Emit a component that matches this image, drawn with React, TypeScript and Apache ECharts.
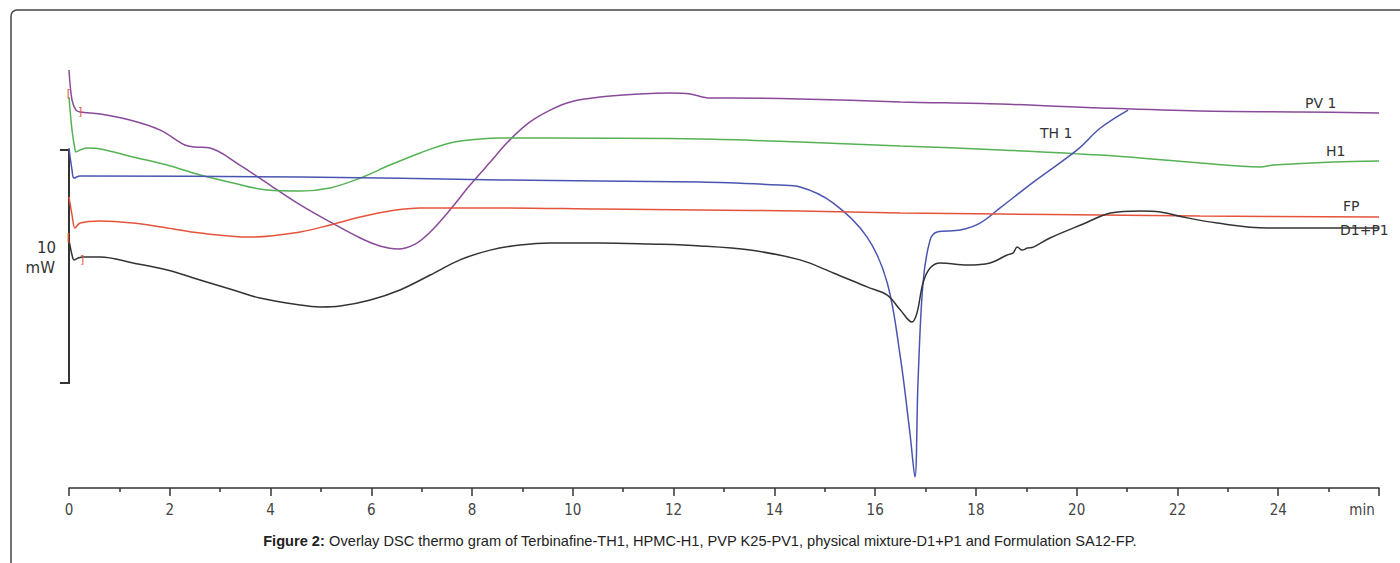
import React, { useEffect, useRef } from "react";
import * as echarts from "echarts";

// x: time (min), y: heat flow (mW, arbitrary overlay offset)
const tickLabels = ["0", "2", "4", "6", "8", "10", "12", "14", "16", "18", "20", "22", "24", "min"];

const pv1: number[][] = [
  [0, 17.94], [0.06, 16.65], [0.14, 16.22], [0.22, 16.14], [0.62, 16.05], [1.21, 15.79], [1.81, 15.36],
  [2.3, 14.72], [2.5, 14.64], [2.8, 14.59], [3.39, 13.86], [3.99, 13.0], [4.59, 12.15], [5.18, 11.42],
  [5.78, 10.73], [6.17, 10.39], [6.53, 10.26], [6.87, 10.47], [7.17, 10.99], [7.56, 11.93], [7.96, 13.0],
  [8.36, 13.99], [8.75, 14.94], [9.15, 15.71], [9.55, 16.22], [9.95, 16.57], [10.54, 16.78], [11.33, 16.91],
  [11.93, 16.95], [12.33, 16.91], [12.72, 16.74], [13.12, 16.74], [14.51, 16.7], [16.5, 16.57], [18.48, 16.48],
  [20.47, 16.31], [22.45, 16.18], [24.44, 16.14], [26, 16.09],
];

const h1: number[][] = [
  [0, 16.78], [0.06, 15.36], [0.12, 14.51], [0.14, 14.42], [0.22, 14.51], [0.36, 14.59], [0.62, 14.55],
  [1.27, 14.21], [1.95, 13.86], [2.6, 13.43], [3.26, 13.09], [3.93, 12.79], [4.59, 12.75], [5.18, 12.88],
  [5.78, 13.3], [6.37, 13.86], [6.97, 14.38], [7.56, 14.81], [8.16, 14.98], [8.56, 15.02], [9.55, 15.02],
  [12.53, 14.98], [14.51, 14.85], [16.5, 14.68], [18.48, 14.51], [20.47, 14.29], [22.45, 13.95],
  [23.64, 13.78], [23.9, 13.86], [25.09, 13.99], [26, 14.03],
];

const th1: number[][] = [
  [0, 14.59], [0.06, 13.65], [0.1, 13.3], [0.22, 13.39], [4.59, 13.35], [8.56, 13.22], [12.53, 13.13],
  [14.11, 13.0], [14.51, 12.92], [15.17, 12.23], [15.84, 10.77], [16.24, 8.8], [16.5, 5.62], [16.69, 2.36],
  [16.79, 0.47], [16.85, 4.51], [16.95, 8.8], [17.09, 10.64], [17.23, 10.99], [17.69, 11.07], [18.08, 11.37],
  [18.48, 12.02], [19.14, 13.13], [20.01, 14.51], [20.47, 15.45], [21.02, 16.22],
];

const fp: number[][] = [
  [0, 12.49], [0.06, 11.72], [0.12, 11.16], [0.22, 11.37], [0.62, 11.46], [1.27, 11.37], [1.95, 11.16],
  [2.6, 10.94], [3.59, 10.77], [4.59, 10.99], [5.18, 11.29], [5.78, 11.63], [6.37, 11.89], [6.97, 12.02],
  [8.56, 12.02], [10.54, 11.97], [12.53, 11.93], [14.51, 11.89], [16.5, 11.8], [18.48, 11.76],
  [20.47, 11.72], [22.45, 11.67], [26, 11.63],
];

const d1p1: number[][] = [
  [0, 10.64], [0.06, 10.0], [0.1, 9.79], [0.18, 9.87], [0.28, 9.91], [0.62, 9.91], [1.27, 9.66], [1.95, 9.36],
  [2.6, 8.93], [3.26, 8.5], [3.79, 8.15], [4.59, 7.85], [4.98, 7.77], [5.38, 7.81], [5.98, 8.07], [6.57, 8.5],
  [7.17, 9.14], [7.76, 9.79], [8.36, 10.21], [8.95, 10.43], [9.55, 10.52], [10.54, 10.52], [11.53, 10.47],
  [12.53, 10.39], [13.52, 10.21], [14.51, 9.79], [15.17, 9.23], [15.84, 8.63], [16.24, 8.28], [16.5, 7.64],
  [16.73, 7.12], [16.83, 7.51], [16.95, 8.8], [17.09, 9.44], [17.29, 9.66], [17.83, 9.57], [18.28, 9.66],
  [18.62, 10.0], [18.74, 10.09], [18.82, 10.34], [18.92, 10.21], [19.02, 10.3], [19.14, 10.34], [19.47, 10.73],
  [20.13, 11.33], [20.67, 11.8], [21.26, 11.89], [21.66, 11.85], [22.11, 11.63], [22.79, 11.37],
  [23.78, 11.16], [26, 11.16],
];

// 10 mW scale bar (x in min, y in mW)
const scaleBar: number[][] = [[-0.18, 14.51], [0, 14.51], [0, 4.51], [-0.18, 4.51]];

const COLORS = {
  pv1: "#8a4a9a",
  h1: "#55b255",
  th1: "#4a55b0",
  fp: "#e5533d",
  d1p1: "#333333",
};

const caption =
  " Overlay DSC thermo gram of Terbinafine-TH1, HPMC-H1, PVP K25-PV1, physical mixture-D1+P1 and Formulation SA12-FP.";

function curve(name: string, data: number[][], color: string, extra: any = {}) {
  return {
    type: "line",
    name,
    data,
    smooth: 0.35,
    symbol: "none",
    silent: true,
    lineStyle: { color, width: 1.5 },
    itemStyle: { color },
    z: 3,
    ...extra,
  };
}

const bracketLabel = (text: string, coord: number[]) => ({
  coord,
  symbol: "rect",
  symbolSize: 1,
  itemStyle: { color: "transparent" },
  label: { show: true, formatter: text, color: "#e5533d", fontSize: 11, fontFamily: "DejaVu Sans", position: "inside" },
});

export default function App() {
  const ref = useRef<HTMLDivElement>(null);
  useEffect(() => {
    document.body.style.margin = "0";
    if (!ref.current) return;
    const chart = echarts.init(ref.current, undefined, { renderer: "svg" });
    const labelFont = { fontFamily: "DejaVu Sans", fontSize: 14, fill: "#333" };
    const tickFont = "Liberation Sans Narrow, DejaVu Sans Condensed, sans-serif";
    chart.setOption({
      animation: false,
      backgroundColor: "#fff",
      grid: { left: 69, right: 21, top: 22, bottom: 75, containLabel: false },
      xAxis: {
        type: "value",
        min: 0,
        max: 26,
        interval: 2,
        axisLine: { show: true, lineStyle: { color: "#333", width: 1.5 } },
        axisTick: { show: true, length: 8, lineStyle: { color: "#333", width: 1.5 } },
        minorTick: { show: true, splitNumber: 2, length: 4, lineStyle: { color: "#333", width: 1.5 } },
        splitLine: { show: false },
        minorSplitLine: { show: false },
        axisLabel: {
          margin: 14,
          showMaxLabel: true,
          showMinLabel: true,
          color: "#444",
          fontSize: 15,
          fontFamily: tickFont,
          formatter: (v: number) => {
            const s = tickLabels[Math.round(v / 2)];
            return v === 26 ? "{m|" + s + "}" : s;
          },
          rich: {
            m: { color: "#444", fontSize: 15, fontFamily: tickFont, padding: [0, 34, 0, 0] },
          },
        },
      },
      yAxis: { type: "value", min: 0, max: 20, show: false },
      series: [
        curve("PV 1", pv1, COLORS.pv1, {
          markPoint: { silent: true, data: [bracketLabel("[", [0, 16.95]), bracketLabel("]", [0.22, 16.14])] },
        }),
        curve("H1", h1, COLORS.h1),
        curve("TH 1", th1, COLORS.th1),
        curve("FP", fp, COLORS.fp, {
          markPoint: { silent: true, data: [bracketLabel("[", [0, 10.77]), bracketLabel("]", [0.26, 9.79])] },
        }),
        curve("D1+P1", d1p1, COLORS.d1p1),
      ],
      graphic: [
        {
          id: "frame",
          type: "rect",
          silent: true,
          shape: { x: 11, y: 10, width: 1600, height: 800, r: [6, 0, 0, 0] },
          style: { fill: "none", stroke: "#444", lineWidth: 1.5 },
        },
        { id: "lpv", type: "text", x: 1305, y: 103, style: { ...labelFont, text: "PV 1", verticalAlign: "middle" } },
        { id: "lth", type: "text", x: 1040, y: 133, style: { ...labelFont, text: "TH 1", verticalAlign: "middle" } },
        { id: "lh", type: "text", x: 1326, y: 151, style: { ...labelFont, text: "H1", verticalAlign: "middle" } },
        { id: "lfp", type: "text", x: 1343, y: 206, style: { ...labelFont, text: "FP", verticalAlign: "middle" } },
        { id: "ld", type: "text", x: 1340, y: 230, style: { ...labelFont, text: "D1+P1", verticalAlign: "middle" } },
        { id: "l10", type: "text", x: 56, y: 248, style: { ...labelFont, fontSize: 15, text: "10", align: "right", verticalAlign: "middle" } },
        { id: "lmw", type: "text", x: 55, y: 268, style: { ...labelFont, fontSize: 15, text: "mW", align: "right", verticalAlign: "middle" } },
        {
          id: "cap",
          type: "text",
          x: 700,
          y: 541,
          style: {
            text: "{b|Figure 2:}{r|" + caption + "}",
            align: "center",
            verticalAlign: "middle",
            rich: {
              b: { fontFamily: "Liberation Sans, Arial, sans-serif", fontWeight: "bold", fontSize: 14.6, fill: "#222" },
              r: { fontFamily: "Liberation Sans, Arial, sans-serif", fontSize: 14.6, fill: "#222" },
            },
          },
        },
      ],
    });
    // scale bar drawn through the chart's own scales
    const pts = scaleBar.map((p) => chart.convertToPixel({ gridIndex: 0 }, p) as number[]);
    chart.setOption({
      graphic: [
        {
          id: "scalebar",
          type: "polyline",
          silent: true,
          z: 1,
          shape: { points: pts },
          style: { fill: "none", stroke: "#333", lineWidth: 2 },
        },
      ],
    });
    return () => chart.dispose();
  }, []);
  return <div ref={ref} style={{ width: 1400, height: 563 }} />;
}
